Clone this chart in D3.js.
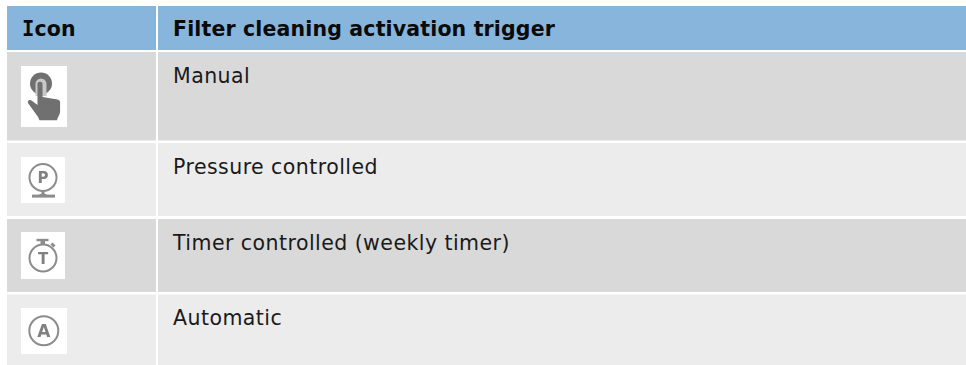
<!DOCTYPE html>
<html>
<head>
<meta charset="utf-8">
<script src="https://cdn.jsdelivr.net/npm/d3@7"></script>
<style>
body { margin: 0; background: #fff; overflow: hidden; }
text { font-family: "DejaVu Sans", sans-serif; }
</style>
</head>
<body>
<div id="chart"></div>
<script>
// table content
const headers = ["Icon", "Filter cleaning activation trigger"];
const triggers = ["Manual", "Pressure controlled", "Timer controlled (weekly timer)", "Automatic"];
const iconKinds = ["hand", "P", "T", "A"];

const w = 966, h = 365;

// Row and column edges
const rowY = d3.scaleOrdinal().domain(triggers).range([52, 143, 219, 294.5]);
const rowBottom = d3.scaleOrdinal().domain(triggers).range([140.5, 216, 292, 365]);
const rowFill = d3.scaleOrdinal().domain(triggers).range(["#d9d9d9", "#ececec", "#d9d9d9", "#ececec"]);
const iconBox = d3.scaleOrdinal().domain(iconKinds)
	.range([[21, 66, 46, 61], [21, 157, 44, 46], [21, 232, 44, 47], [21, 308, 46, 46]]);

const col1 = [7, 156], col2 = [158, 966];
const textX = 173;

const svg = d3.select("#chart").append("svg").attr("width", w).attr("height", h).style("display", "block");

const defs = svg.append("defs");
defs.append("filter").attr("id", "soft").append("feGaussianBlur").attr("stdDeviation", 0.55);

// Header
svg.selectAll("rect.head")
	.data([col1, col2])
	.enter()
	.append("rect")
	.attr("class", "head")
	.attr("x", d => d[0])
	.attr("y", 6)
	.attr("width", d => d[1] - d[0])
	.attr("height", 44)
	.attr("fill", "#87b5db");

svg.selectAll("text.head")
	.data(headers)
	.enter()
	.append("text")
	.attr("class", "head")
	.attr("x", (d, i) => i === 0 ? 22 : textX)
	.attr("y", 36)
	.attr("font-size", "20.5px")
	.attr("font-weight", "bold")
	.attr("letter-spacing", "0.15px")
	.attr("fill", "#0a0a0a")
	.each(function(d) {
		// the capital I has serifs in the reference, the mono bold has them too
		const t = d3.select(this);
		if (d[0] === "I") {
			t.append("tspan").style("font-family", "'DejaVu Sans Mono'").text(d[0]);
			t.append("tspan").text(d.slice(1));
		} else {
			t.text(d);
		}
	});

// Rows
const rows = svg.selectAll("g.row")
	.data(triggers)
	.enter()
	.append("g")
	.attr("class", "row");

[col1, col2].forEach(c => {
	rows.append("rect")
		.attr("x", c[0])
		.attr("y", d => rowY(d))
		.attr("width", c[1] - c[0])
		.attr("height", d => rowBottom(d) - rowY(d))
		.attr("fill", d => rowFill(d));
});

rows.append("text")
	.attr("x", textX)
	.attr("y", d => rowY(d) + 30.5)
	.attr("font-size", "20.5px")
	.attr("letter-spacing", "0.45px")
	.attr("fill", "#1a1a1a")
	.text(d => d);

// Icons
const grey = "#6f6f6f";
const ring = "#8c8c8c";
const icons = svg.selectAll("g.icon")
	.data(iconKinds)
	.enter()
	.append("g")
	.attr("class", "icon");

icons.append("rect")
	.attr("x", d => iconBox(d)[0])
	.attr("y", d => iconBox(d)[1])
	.attr("width", d => iconBox(d)[2])
	.attr("height", d => iconBox(d)[3])
	.attr("fill", "#fff");

const glyph = icons.append("g").attr("filter", "url(#soft)");

// ring with a letter inside, shared by the three round icons
function ringIcon(g, cx, cy, r, letter, baseline, size) {
	g.append("circle").attr("cx", cx).attr("cy", cy).attr("r", r)
		.attr("fill", "none").attr("stroke", ring).attr("stroke-width", 2);
	g.append("text").attr("x", cx).attr("y", baseline).attr("text-anchor", "middle")
		.attr("font-size", size).attr("font-weight", "bold").attr("fill", "#808080").text(letter);
}

glyph.each(function(kind) {
	const g = d3.select(this);
	if (kind === "hand") {
		g.append("circle").attr("cx", 41).attr("cy", 83.5).attr("r", 11).attr("fill", grey);
		g.append("path").attr("fill", "#c8c8c8")
			.attr("d", "M35.5 96v-12a5.5 5.5 0 0 1 11 0v12z");
		g.append("path").attr("fill", grey)
			.attr("d", "M37.5 84c0-3 5-3 5 0V97l15 2.4c1.8.4 2.6 1.4 2.6 3V111c0 2.4-1 4.4-2 6l-1.2 3.2H39.5l-1.6-3.4-9.4-13c-1.8-2.6.8-4.8 3-3.2l6 4.4z");
	}
	if (kind === "P") {
		ringIcon(g, 43, 177.5, 13.5, "P", 183, "15px");
		g.append("path").attr("fill", ring)
			.attr("d", "M41.5 190h3v3.5l3 1.5h-9l3-1.5z");
		g.append("rect").attr("x", 32).attr("y", 194.6).attr("width", 23).attr("height", 3)
			.attr("fill", ring);
	}
	if (kind === "T") {
		ringIcon(g, 43, 258, 13.5, "T", 264, "15px");
		g.append("rect").attr("x", 36.5).attr("y", 238.8).attr("width", 12).attr("height", 2.4).attr("fill", ring);
		g.append("rect").attr("x", 40.5).attr("y", 241).attr("width", 4.5).attr("height", 4).attr("fill", ring);
		g.append("path").attr("stroke", ring).attr("stroke-width", 3).attr("fill", "none")
			.attr("d", "M51.5 243.5l3 3");
	}
	if (kind === "A") {
		ringIcon(g, 43.8, 330.7, 14.5, "A", 337.3, "17px");
	}
});
</script>
</body>
</html>
